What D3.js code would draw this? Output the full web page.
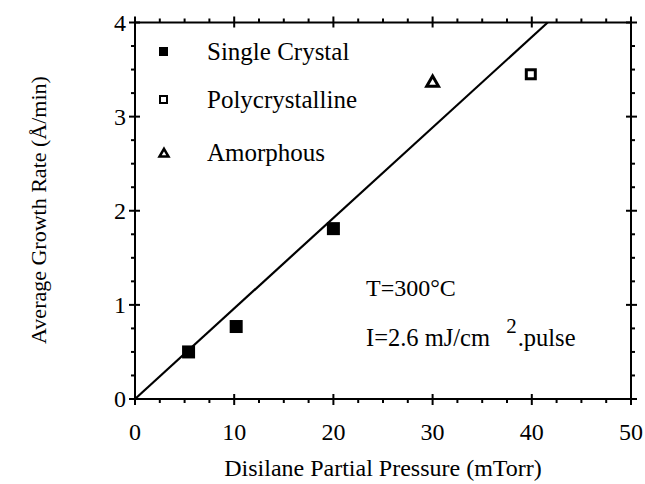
<!DOCTYPE html>
<html><head><meta charset="utf-8">
<script src="https://cdn.jsdelivr.net/npm/d3@7/dist/d3.min.js"></script>
<style>body{margin:0;background:#fff}svg{display:block}text{font-family:"Liberation Serif","Times New Roman",serif;fill:#000}</style>
</head><body>
<script>
const singleX = [5.4, 10.2, 20];
const singleY = [0.50, 0.77, 1.81];
const polyX = [39.9];
const polyY = [3.45];
const amorX = [30];
const amorY = [3.37];
const fitX = [0, 41.6];
const fitY = [0, 4];
const xTicks = [0, 10, 20, 30, 40, 50];
const yTicks = [0, 1, 2, 3, 4];
const legendLabels = ["Single Crystal", "Polycrystalline", "Amorphous"];

const W = 645, H = 484;
const svg = d3.select("body").append("svg").attr("width", W).attr("height", H);
const x = d3.scaleLinear().domain([0, 50]).range([135, 631]);
const y = d3.scaleLinear().domain([0, 4]).range([399, 22.5]);

const g = svg.append("g");
g.append("rect").attr("x", x(0)).attr("y", y(4)).attr("width", x(50) - x(0)).attr("height", y(0) - y(4))
  .attr("fill", "none").attr("stroke", "#000").attr("stroke-width", 2);

const xMinor = d3.range(0, 50.01, 2.5);
const yMinor = d3.range(0, 4.001, 0.25);
const isMajX = v => Math.abs(v % 10) < 1e-6;
const isMajY = v => Math.abs(v % 1) < 1e-6;
xMinor.forEach(v => {
  const maj = isMajX(v);
  g.append("line").attr("x1", x(v)).attr("x2", x(v)).attr("y1", y(0) - (maj ? 5 : 0)).attr("y2", y(0) + (maj ? 6 : 4)).attr("stroke", "#000").attr("stroke-width", 2);
  g.append("line").attr("x1", x(v)).attr("x2", x(v)).attr("y1", y(4) + (maj ? 5 : 0)).attr("y2", y(4) - (maj ? 6 : 4)).attr("stroke", "#000").attr("stroke-width", 2);
});
yMinor.forEach(v => {
  const maj = isMajY(v);
  g.append("line").attr("y1", y(v)).attr("y2", y(v)).attr("x1", x(0) + (maj ? 5 : 0)).attr("x2", x(0) - (maj ? 6 : 4)).attr("stroke", "#000").attr("stroke-width", 2);
  g.append("line").attr("y1", y(v)).attr("y2", y(v)).attr("x1", x(50) - (maj ? 5 : 0)).attr("x2", x(50) + (maj ? 6 : 4)).attr("stroke", "#000").attr("stroke-width", 2);
});
g.selectAll(".xl").data(xTicks).join("text").attr("x", d => x(d)).attr("y", 440)
  .attr("text-anchor", "middle").attr("font-size", 24).text(d => d);
g.selectAll(".yl").data(yTicks).join("text").attr("x", 126).attr("y", d => y(d) + 8)
  .attr("text-anchor", "end").attr("font-size", 24).text(d => d);
svg.append("text").attr("x", 383).attr("y", 476).attr("text-anchor", "middle").attr("font-size", 24)
  .text("Disilane Partial Pressure (mTorr)");
svg.append("text").attr("transform", "translate(46,210) rotate(-90)").attr("text-anchor", "middle").attr("font-size", 22)
  .text("Average Growth Rate (Å/min)");

g.append("line").attr("x1", x(fitX[0])).attr("y1", y(fitY[0])).attr("x2", x(fitX[1])).attr("y2", y(fitY[1]))
  .attr("stroke", "#000").attr("stroke-width", 2.2);

const sq = 13;
g.selectAll(".sc").data(singleX.map((v, i) => [v, singleY[i]])).join("rect")
  .attr("x", d => x(d[0]) - sq / 2).attr("y", d => y(d[1]) - sq / 2).attr("width", sq).attr("height", sq).attr("fill", "#000");
g.selectAll(".pc").data(polyX.map((v, i) => [v, polyY[i]])).join("rect")
  .attr("x", d => x(d[0]) - 4.5).attr("y", d => y(d[1]) - 4.5).attr("width", 9).attr("height", 9)
  .attr("fill", "#fff").attr("stroke", "#000").attr("stroke-width", 3);
const tri = d3.symbol().type(d3.symbolTriangle).size(60);
g.selectAll(".am").data(amorX.map((v, i) => [v, amorY[i]])).join("path")
  .attr("d", tri).attr("transform", d => `translate(${x(d[0])},${y(d[1]) + 1})`)
  .attr("fill", "#fff").attr("stroke", "#000").attr("stroke-width", 3).attr("stroke-linejoin", "miter");

const ly = [52, 100, 153];
svg.append("rect").attr("x", 159).attr("y", ly[0] - 5).attr("width", 9).attr("height", 9).attr("fill", "#000");
svg.append("rect").attr("x", 160).attr("y", ly[1] - 4).attr("width", 7).attr("height", 7).attr("fill", "#fff").attr("stroke", "#000").attr("stroke-width", 2);
svg.append("path").attr("d", d3.symbol().type(d3.symbolTriangle).size(35)).attr("transform", `translate(164,${ly[2] + 1})`)
  .attr("fill", "#fff").attr("stroke", "#000").attr("stroke-width", 2.5);
svg.selectAll(".lg").data(legendLabels).join("text").attr("x", 207).attr("y", (d, i) => ly[i] + 8)
  .attr("font-size", 25).text(d => d);

svg.append("text").attr("x", 366).attr("y", 296).attr("font-size", 24).text("T=300°C");
const t2 = svg.append("text").attr("x", 366).attr("y", 346).attr("font-size", 24.5);
t2.append("tspan").text("I=2.6 mJ/cm ");
t2.append("tspan").attr("dx", 10).attr("dy", -13).attr("font-size", 21).text("2");
t2.append("tspan").attr("dx", 1).attr("dy", 13).text(".pulse");
</script>
</body></html>
